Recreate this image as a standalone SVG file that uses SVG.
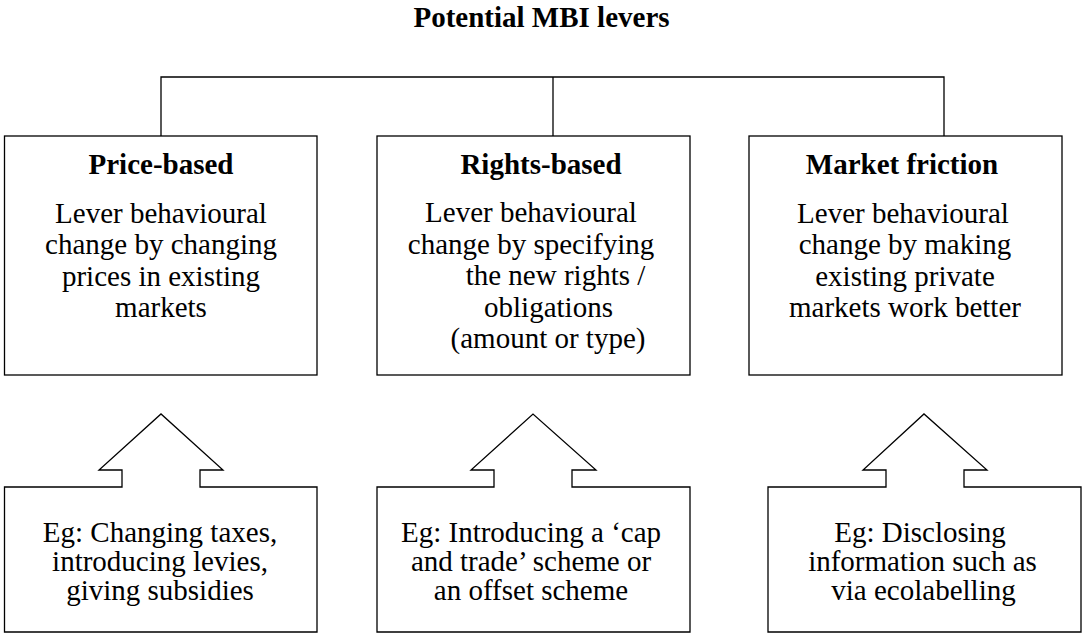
<svg xmlns="http://www.w3.org/2000/svg" width="1082" height="633" viewBox="0 0 1082 633">
  <style>
    .box { fill: #ffffff; stroke: #000000; stroke-width: 1.3; }
    .link { fill: none; stroke: #000000; stroke-width: 1.3; }
    text { font-family: "Liberation Serif", "Times New Roman", serif; font-size: 29px; fill: #000000; text-anchor: middle; }
    .head { font-weight: bold; }
  </style>
  <rect width="1082" height="633" fill="#ffffff"/>

  <text id="title" class="head" x="541.5" y="27">Potential MBI levers</text>

  <!-- tree connector from the title bar down to the three lever boxes -->
  <g id="connectors">
    <path class="link" d="M161 136 V77 H944 V136"/>
    <path class="link" d="M553 77 V136"/>
  </g>

  <!-- lever boxes -->
  <g id="price-based">
    <rect class="box" x="4.5" y="136" width="312.5" height="239"/>
    <text class="head" x="161" y="174">Price-based</text>
    <text x="161" y="223">Lever behavioural</text>
    <text x="161" y="254">change by changing</text>
    <text x="161" y="285.5">prices in existing</text>
    <text x="161" y="317">markets</text>
  </g>

  <g id="rights-based">
    <rect class="box" x="377" y="136" width="313" height="239"/>
    <text class="head" x="541" y="174">Rights-based</text>
    <text x="531" y="222">Lever behavioural</text>
    <text x="531" y="253.5">change by specifying</text>
    <text x="555.5" y="285">the new rights /</text>
    <text x="548.5" y="316.5">obligations</text>
    <text x="548" y="348">(amount or type)</text>
  </g>

  <g id="market-friction">
    <rect class="box" x="749" y="136" width="313" height="239"/>
    <text class="head" x="902" y="174">Market friction</text>
    <text x="903" y="223">Lever behavioural</text>
    <text x="905" y="254">change by making</text>
    <text x="905" y="285.5">existing private</text>
    <text x="905" y="317">markets work better</text>
  </g>

  <!-- example boxes, each merged with an upward block arrow -->
  <g id="price-example">
    <path class="box" d="M4.5 632 V487 H122 V470 H99 L161 414 L223 470 H200 V487 H317 V632 Z"/>
    <text x="160" y="542">Eg: Changing taxes,</text>
    <text x="160" y="571">introducing levies,</text>
    <text x="160" y="600">giving subsidies</text>
  </g>

  <g id="rights-example">
    <path class="box" d="M377 632 V487 H494 V470 H471 L533 414 L596 470 H572 V487 H690 V632 Z"/>
    <text x="531" y="542">Eg: Introducing a ‘cap</text>
    <text x="531" y="571">and trade’ scheme or</text>
    <text x="531" y="600">an offset scheme</text>
  </g>

  <g id="friction-example">
    <path class="box" d="M768 632 V487 H886 V470 H863 L924 414 L987 470 H964 V487 H1081 V632 Z"/>
    <text x="920" y="542">Eg: Disclosing</text>
    <text x="922.5" y="571">information such as</text>
    <text x="923.5" y="600">via ecolabelling</text>
  </g>
</svg>
